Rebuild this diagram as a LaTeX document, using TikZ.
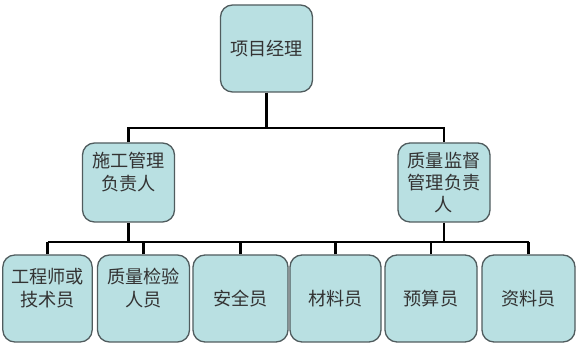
\documentclass[tikz,border=0pt]{standalone}
\usepackage{fontspec}
\setmainfont{Noto Sans CJK SC}
\usepackage{xcolor}
\usepackage{tikz}
\usetikzlibrary{calc, positioning}

\definecolor{boxfill}{RGB}{185,224,226}
\definecolor{boxline}{RGB}{80,92,94}

\begin{document}
\begin{tikzpicture}[x=0.03cm, y=-0.03cm,
    role/.style={draw=boxline, line width=1.1pt, fill=boxfill, rounded corners=0.36cm,
        minimum width=2.76cm, minimum height=2.61cm, align=center, inner sep=1pt,
        font=\fontsize{15.5}{19}\selectfont, text=black!80},
    link/.style={line width=2.4pt, black, line join=miter}]
    \useasboundingbox (0,0) rectangle (577,348);

    % hàng trên
    \node[role] (top) at (266.5,48.5) {项目经理};

    % hàng giữa
    \node[role, minimum height=2.37cm] (lmid) at (128.5,182.5) {施工管理\\负责人\\\mbox{}};
    \node[role, minimum height=2.37cm] (rmid) at (444,182.5) {质量监督\\管理负责\\人};

    % hàng dưới
    \node[role, minimum width=2.68cm] (b1) at (47.5,298.5) {工程师或\\技术员\\\mbox{}};
    \node[role] (b2) at (143.5,298.5) {质量检验\\人员\\\mbox{}};
    \node[role, minimum width=2.85cm] (b3) at (240.5,298.5) {安全员};
    \node[role, minimum width=2.73cm] (b4) at (335.5,298.5) {材料员};
    \node[role] (b5) at (431,298.5) {预算员};
    \node[role, minimum width=2.79cm] (b6) at (528.5,298.5) {资料员};

    % đường nối
    \coordinate (busu) at (128.5,128);
    \coordinate (busl) at (47.5,242);
    \draw[link] (lmid.north) |- (busu) -| (rmid.north);
    \draw[link] (top.south) -- (top.south |- busu);
    \draw[link] (busl) -- (b6.north |- busl);
    \draw[link] (lmid.south) -- (lmid.south |- busl);
    \draw[link] (rmid.south) -- (rmid.south |- busl);
    \foreach \b in {b1,b2,b3,b4,b5,b6}
        \draw[link] (\b.north) -- (\b.north |- busl);
\end{tikzpicture}
\end{document}
